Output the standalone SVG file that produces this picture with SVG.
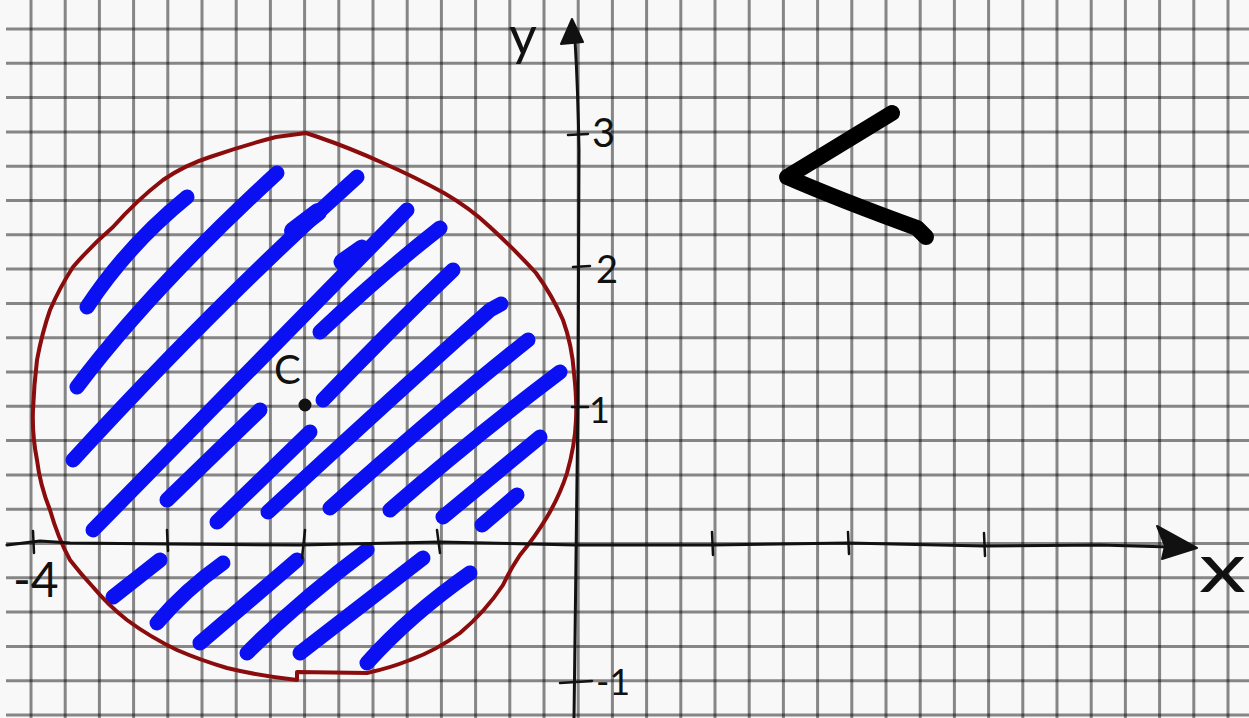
<svg xmlns="http://www.w3.org/2000/svg" width="1249" height="718" viewBox="0 0 1249 718">
<style>
.grid{fill:none;stroke:#000;stroke-opacity:0.46;stroke-width:3}
.axis{fill:none;stroke:#111;stroke-width:3;stroke-linecap:round;stroke-linejoin:round}
.tick{fill:none;stroke:#111;stroke-width:2.5;stroke-linecap:round}
.hatch{fill:none;stroke:#0a10f2;stroke-width:15;stroke-linecap:round;stroke-linejoin:round}
.circ{fill:none;stroke:#8a0c0c;stroke-width:4;stroke-linejoin:round;stroke-linecap:round}
.hand{font-family:Lato,Roboto,"Liberation Sans",sans-serif;font-weight:400;fill:#111}
</style>
<rect width="1249" height="718" fill="#f8f8f8"/>
<g id="grid">
<path class="grid" d="M31,0V718M65.2,0V718M99.4,0V718M133.6,0V718M167.8,0V718M202,0V718M236.2,0V718M270.4,0V718M304.6,0V718M338.8,0V718M373,0V718M407.2,0V718M441.4,0V718M475.6,0V718M509.8,0V718M544,0V718M578.2,0V718M612.4,0V718M646.6,0V718M680.8,0V718M715,0V718M749.2,0V718M783.4,0V718M817.6,0V718M851.8,0V718M886,0V718M920.2,0V718M954.4,0V718M988.6,0V718M1022.8,0V718M1057,0V718M1091.2,0V718M1125.4,0V718M1159.6,0V718M1193.8,0V718M1228,0V718"/>
<path class="grid" d="M6,29H1249M6,63.3H1249M6,97.6H1249M6,131.9H1249M6,166.2H1249M6,200.5H1249M6,234.8H1249M6,269.1H1249M6,303.4H1249M6,337.7H1249M6,372H1249M6,406.3H1249M6,440.6H1249M6,474.9H1249M6,509.2H1249M6,543.5H1249M6,577.8H1249M6,612.1H1249M6,646.4H1249M6,680.7H1249M6,715H1249"/>
</g>
<g id="hatching">
<path class="hatch" d="M87,307 Q128,245 187,197"/>
<path class="hatch" d="M77,387 Q150,290 277,173"/>
<path class="hatch" d="M73,460 Q220,300 357,177"/>
<path class="hatch" style="stroke-width:18" d="M293,231 L318,212"/>
<path class="hatch" d="M93,530 Q260,360 407,210"/>
<path class="hatch" style="stroke-width:17" d="M342,262 L362,248"/>
<path class="hatch" d="M320,332 Q380,275 440,228"/>
<path class="hatch" d="M323,400 Q390,330 453,270"/>
<path class="hatch" d="M167,500 L260,410"/>
<path class="hatch" d="M217,522 L310,432"/>
<path class="hatch" d="M268,512 Q400,390 490,310 L501,304"/>
<path class="hatch" d="M330,508 Q440,410 528,340"/>
<path class="hatch" d="M390,510 Q470,440 560,372"/>
<path class="hatch" d="M443,517 L540,437"/>
<path class="hatch" d="M482,525 L517,495"/>
<path class="hatch" d="M113,597 L160,560"/>
<path class="hatch" d="M157,623 Q185,590 223,563"/>
<path class="hatch" d="M200,643 L297,560"/>
<path class="hatch" d="M247,653 Q300,600 367,550"/>
<path class="hatch" d="M300,653 L423,558"/>
<path class="hatch" d="M367,663 Q410,615 470,573"/>
</g>
<g id="circle">
<path class="circ" d="M306,133 L318,137 Q350,148 383,163 Q415,177 444,193 Q470,208 490,227 Q515,250 536,273 Q552,295 563,320 Q572,345 574,373 Q577,400 576,420 Q575,445 567,473 Q560,495 547,517 Q535,537 520,555 Q510,570 503,585 Q485,612 460,633 Q437,650 410,660 Q390,668 367,673 L297,672 L297,680 Q260,676 227,668 Q200,660 177,650 Q150,637 127,620 Q108,605 93,587 Q80,573 70,560 Q58,538 50,510 Q40,485 37,460 Q32,435 33,410 Q34,385 37,360 Q42,333 50,310 Q60,287 73,267 Q92,245 113,227 Q137,200 163,180 Q185,165 210,157 Q245,145 276,137 Z"/>
</g>
<g id="axes">
<path class="axis" d="M7,545 L40,541 L70,543 L170,544 L300,545 L440,542 L576,545 L712,545 L848,543 L984,546 L1100,545 L1170,547"/>
<path d="M1197,548 L1157,526 L1165,546 L1162,559 Z" fill="#111" stroke="#111" stroke-width="2" stroke-linejoin="round"/>
<path class="axis" d="M574,718 Q576,560 578,400 Q579,250 579,150 Q578,90 575,40"/>
<path d="M572,19 L561,44 L583,42 Z" fill="#111" stroke="#111" stroke-width="2" stroke-linejoin="round"/>
<path class="tick" d="M33,531 L34,553 M167,530 L168,551 M305,530 L302,558 M437,530 L440,553 M712,532 L713,555 M848,532 L849,554 M984,533 L985,556"/>
<path class="tick" d="M568,135 L588,134 M573,267 L590,266 M572,407 L588,407 M560,683 L592,681"/>
</g>
<g id="labels">
<text class="hand" x="509" y="55" font-size="54">y</text>
<text class="hand" x="592" y="147" font-size="40">3</text>
<text class="hand" x="596" y="283" font-size="38">2</text>
<text class="hand" x="589" y="423" font-size="36">1</text>
<text class="hand" x="596" y="695" font-size="36">-1</text>
<text class="hand" x="13" y="597" font-size="48">-4</text>
<text class="hand" x="1199" y="592" font-size="70" font-weight="300" textLength="47" lengthAdjust="spacingAndGlyphs">x</text>
<text class="hand" x="274" y="384" font-size="40">C</text>
</g>
<g id="center">
<circle cx="305" cy="405" r="6.5" fill="#111"/>
</g>
<g id="less-than">
<path d="M892,113 L787,177 Q840,200 917,228 L926,237" fill="none" stroke="#000" stroke-width="16" stroke-linecap="round" stroke-linejoin="round"/>
</g>
</svg>
